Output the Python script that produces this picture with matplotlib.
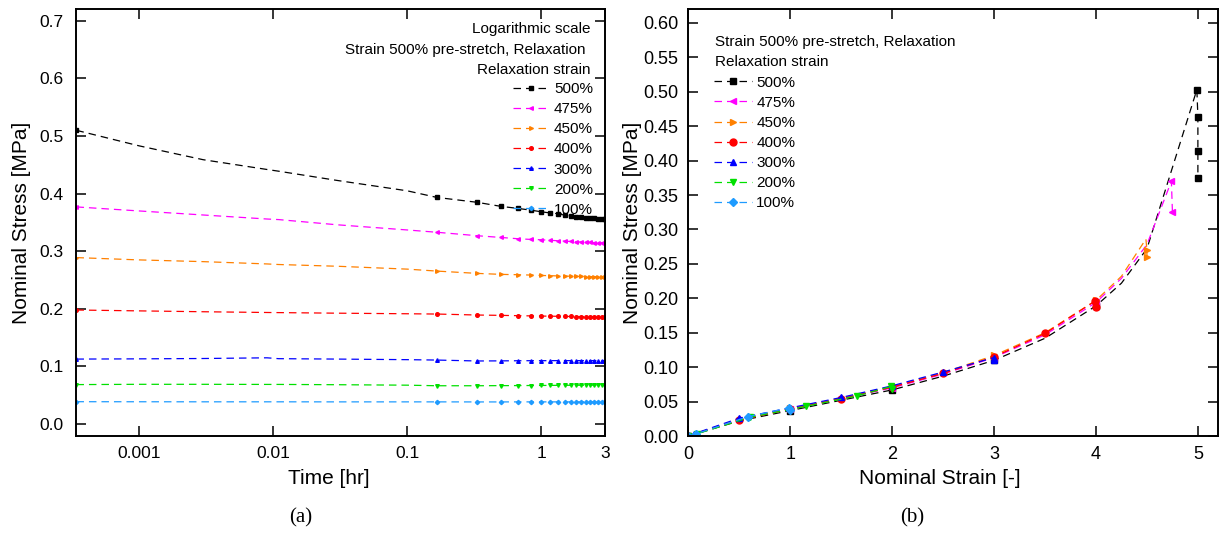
import matplotlib
matplotlib.use('Agg')
import matplotlib.pyplot as plt
from matplotlib.ticker import FixedLocator, NullLocator, FormatStrFormatter

plt.rcParams['font.family'] = ['Liberation Sans', 'DejaVu Sans']

# ---- panel (a): relaxation vs time ----
labels = ['500%', '475%', '450%', '400%', '300%', '200%', '100%']
colors = ['#000000', '#FF00FF', '#FF8000', '#FF0000', '#0000FF', '#00E000', '#1E9BFF']
markers = ['s', '<', '>', 'o', '^', 'v', 'D']

t_early = [0.00034, 0.001, 0.003, 0.009, 0.011, 0.03, 0.1]
t_late = [0.1667, 0.3333, 0.5, 0.6667, 0.8333, 1.0, 1.1667, 1.3333, 1.5,
          1.6667, 1.8333, 2.0, 2.1667, 2.3333, 2.5, 2.6667, 2.8333, 3.0]

relax_early = {
    '500%': [0.510, 0.483, 0.459, 0.442, 0.439, 0.423, 0.405],
    '475%': [0.377, 0.370, 0.363, 0.356, 0.355, 0.346, 0.337],
    '450%': [0.289, 0.285, 0.282, 0.278, 0.277, 0.274, 0.269],
    '400%': [0.198, 0.1965, 0.195, 0.1937, 0.1935, 0.1925, 0.1915],
    '300%': [0.1128, 0.1132, 0.1138, 0.1150, 0.1135, 0.1128, 0.1118],
    '200%': [0.0685, 0.0690, 0.0690, 0.0688, 0.0688, 0.0683, 0.0675],
    '100%': [0.0388, 0.0387, 0.0386, 0.0386, 0.0386, 0.0385, 0.0385],
}
relax_late = {
    '500%': [0.3935, 0.385, 0.378, 0.3745, 0.3715, 0.3686, 0.3665, 0.3645, 0.3630,
             0.3615, 0.3602, 0.3592, 0.3585, 0.3578, 0.3572, 0.3567, 0.3562, 0.3557],
    '475%': [0.333, 0.327, 0.324, 0.3218, 0.3206, 0.320, 0.319, 0.3183, 0.3176,
             0.317, 0.3165, 0.316, 0.3157, 0.3154, 0.3151, 0.3149, 0.3147, 0.3145],
    '450%': [0.2656, 0.2616, 0.2599, 0.2593, 0.2587, 0.258, 0.2576, 0.2572, 0.2569,
             0.2566, 0.2564, 0.2562, 0.2561, 0.2560, 0.2559, 0.2558, 0.2558, 0.2557],
    '400%': [0.191, 0.1893, 0.1887, 0.1882, 0.1878, 0.1875, 0.1873, 0.1871, 0.1869,
             0.1868, 0.1867, 0.1866, 0.1865, 0.1864, 0.1864, 0.1863, 0.1863, 0.1862],
    '300%': [0.1111, 0.1095, 0.1097, 0.1099, 0.1100, 0.1100, 0.1101, 0.1101, 0.1101,
             0.1101, 0.1101, 0.1101, 0.1101, 0.1101, 0.1101, 0.1101, 0.1101, 0.1101],
    '200%': [0.0665, 0.0665, 0.0667, 0.0668, 0.0669, 0.0670, 0.0671, 0.0672, 0.0673,
             0.0673, 0.0674, 0.0674, 0.0675, 0.0675, 0.0676, 0.0676, 0.0677, 0.0677],
    '100%': [0.0385, 0.0384, 0.0384, 0.0385, 0.0385, 0.0385, 0.0385, 0.0385, 0.0385,
             0.0385, 0.0385, 0.0385, 0.0385, 0.0385, 0.0385, 0.0385, 0.0385, 0.0385],
}

# ---- panel (b): stress-strain with relaxation drop ----
strain_b = {
    '500%': [0, 0.5, 1.0, 1.5, 2.0, 2.5, 3.0, 3.5, 4.0, 4.25, 4.5, 4.99, 5.0, 5.0, 5.0],
    '475%': [0, 0.5, 1.0, 1.5, 2.0, 2.5, 3.0, 3.5, 4.0, 4.25, 4.5, 4.74, 4.75],
    '450%': [0, 0.5, 1.0, 1.5, 2.0, 2.5, 3.0, 3.5, 4.0, 4.25, 4.49, 4.5, 4.5],
    '400%': [0, 0.5, 1.0, 1.5, 2.0, 2.5, 3.0, 3.5, 3.99, 4.0],
    '300%': [0, 0.05, 0.5, 1.0, 1.5, 2.0, 2.5, 3.0, 3.0],
    '200%': [0, 0.08, 0.6, 1.15, 1.65, 1.99, 2.0],
    '100%': [0, 0.07, 0.58, 0.99, 1.0],
}
stress_b = {
    '500%': [0, 0.022, 0.037, 0.052, 0.067, 0.087, 0.110, 0.142, 0.189, 0.222, 0.272,
             0.503, 0.464, 0.414, 0.375],
    '475%': [0, 0.024, 0.039, 0.054, 0.070, 0.090, 0.114, 0.147, 0.194, 0.229, 0.278,
             0.370, 0.326],
    '450%': [0, 0.025, 0.040, 0.055, 0.072, 0.092, 0.117, 0.150, 0.197, 0.232,
             0.286, 0.270, 0.2595],
    '400%': [0, 0.023, 0.039, 0.054, 0.071, 0.091, 0.115, 0.149, 0.196, 0.187],
    '300%': [0, 0.003, 0.026, 0.041, 0.056, 0.073, 0.093, 0.114, 0.110],
    '200%': [0, 0.003, 0.027, 0.043, 0.058, 0.072, 0.068],
    '100%': [0, 0.003, 0.028, 0.041, 0.038],
}
markevery_b = {
    '500%': [0, 2, 4, 6, 8, 11, 12, 13, 14],
    '475%': [0, 2, 4, 6, 8, 11, 12],
    '450%': [0, 2, 4, 6, 8, 11, 12],
    '400%': None, '300%': None, '200%': None, '100%': None,
}

dash = (0, (6, 4))

fig = plt.figure(figsize=(12.25, 5.35), dpi=100)
ax1 = fig.add_axes([0.062, 0.185, 0.4319, 0.798])
ax2 = fig.add_axes([0.562, 0.185, 0.4325, 0.798])

for lab, c, m in zip(labels, colors, markers):
    t = t_early + t_late
    s = relax_early[lab] + relax_late[lab]
    ms = 2.6 if m != 'D' else 2.2
    ax1.plot(t, s, linestyle=dash, lw=0.9, color=c, marker=m, ms=ms,
             markevery=[0] + list(range(len(t_early), len(t))), label=lab)

ax1.set_xscale('log')
ax1.set_xlim(3.37e-4, 3.0)
ax1.set_ylim(-0.0208, 0.7205)
ax1.xaxis.set_major_locator(FixedLocator([0.001, 0.01, 0.1, 1, 3]))
ax1.xaxis.set_minor_locator(NullLocator())
ax1.set_xticklabels(['0.001', '0.01', '0.1', '1', '3'])
ax1.set_yticks([0.0, 0.1, 0.2, 0.3, 0.4, 0.5, 0.6, 0.7])
ax1.yaxis.set_major_formatter(FormatStrFormatter('%.1f'))
ax1.tick_params(axis='both', direction='in', top=True, right=True, length=7,
                width=1.1, labelsize=12.5)
ax1.tick_params(axis='x', pad=7)
ax1.tick_params(axis='y', pad=9)
ax1.set_xlabel('Time [hr]', fontsize=15)
ax1.set_ylabel('Nominal Stress [MPa]', fontsize=15)
ax1.xaxis.set_label_coords(0.477, -0.077)
ax1.yaxis.set_label_coords(-0.085, 0.5)

ax1.text(0.972, 0.953, 'Logarithmic scale', transform=ax1.transAxes,
         ha='right', va='center', fontsize=11)
ax1.text(0.963, 0.905, 'Strain 500% pre-stretch, Relaxation', transform=ax1.transAxes,
         ha='right', va='center', fontsize=11)
ax1.text(0.972, 0.858, 'Relaxation strain', transform=ax1.transAxes,
         ha='right', va='center', fontsize=11)
ax1.legend(loc='upper right', bbox_to_anchor=(0.977, 0.829), frameon=False,
           fontsize=11, borderpad=0, borderaxespad=0, handlelength=2.36,
           handletextpad=0.33, labelspacing=0.4, markerscale=1.0)

for lab, c, m in zip(labels, colors, markers):
    ms = 5 if m != 'D' else 4.2
    ax2.plot(strain_b[lab], stress_b[lab], linestyle=dash, lw=0.9, color=c,
             marker=m, ms=ms, markevery=markevery_b[lab], label=lab)

ax2.set_xlim(0, 5.2)
ax2.set_ylim(0, 0.62)
ax2.set_xticks([0, 1, 2, 3, 4, 5])
ax2.set_yticks([0.05 * i for i in range(13)])
ax2.yaxis.set_major_formatter(FormatStrFormatter('%.2f'))
ax2.tick_params(axis='both', direction='in', top=True, right=True, length=7,
                width=1.1, labelsize=13)
ax2.tick_params(axis='x', pad=7)
ax2.tick_params(axis='y', pad=7)
ax2.set_xlabel('Nominal Strain [-]', fontsize=15)
ax2.set_ylabel('Nominal Stress [MPa]', fontsize=15)
ax2.xaxis.set_label_coords(0.475, -0.077)
ax2.yaxis.set_label_coords(-0.087, 0.5)

ax2.text(0.050, 0.922, 'Strain 500% pre-stretch, Relaxation', transform=ax2.transAxes,
         ha='left', va='center', fontsize=11)
ax2.text(0.050, 0.876, 'Relaxation strain', transform=ax2.transAxes,
         ha='left', va='center', fontsize=11)
ax2.legend(loc='upper left', bbox_to_anchor=(0.0485, 0.844), frameon=False,
           fontsize=11, borderpad=0, borderaxespad=0, handlelength=2.5,
           handletextpad=0.26, labelspacing=0.4)

for ax in (ax1, ax2):
    for sp in ax.spines.values():
        sp.set_linewidth(1.4)

fig.text(301 / 1225, 1 - 518 / 535, '(a)', ha='center', va='center',
         fontsize=15, family=['Liberation Serif'])
fig.text(912 / 1225, 1 - 518 / 535, '(b)', ha='center', va='center',
         fontsize=15, family=['Liberation Serif'])

fig.savefig('out.png', dpi=100)
